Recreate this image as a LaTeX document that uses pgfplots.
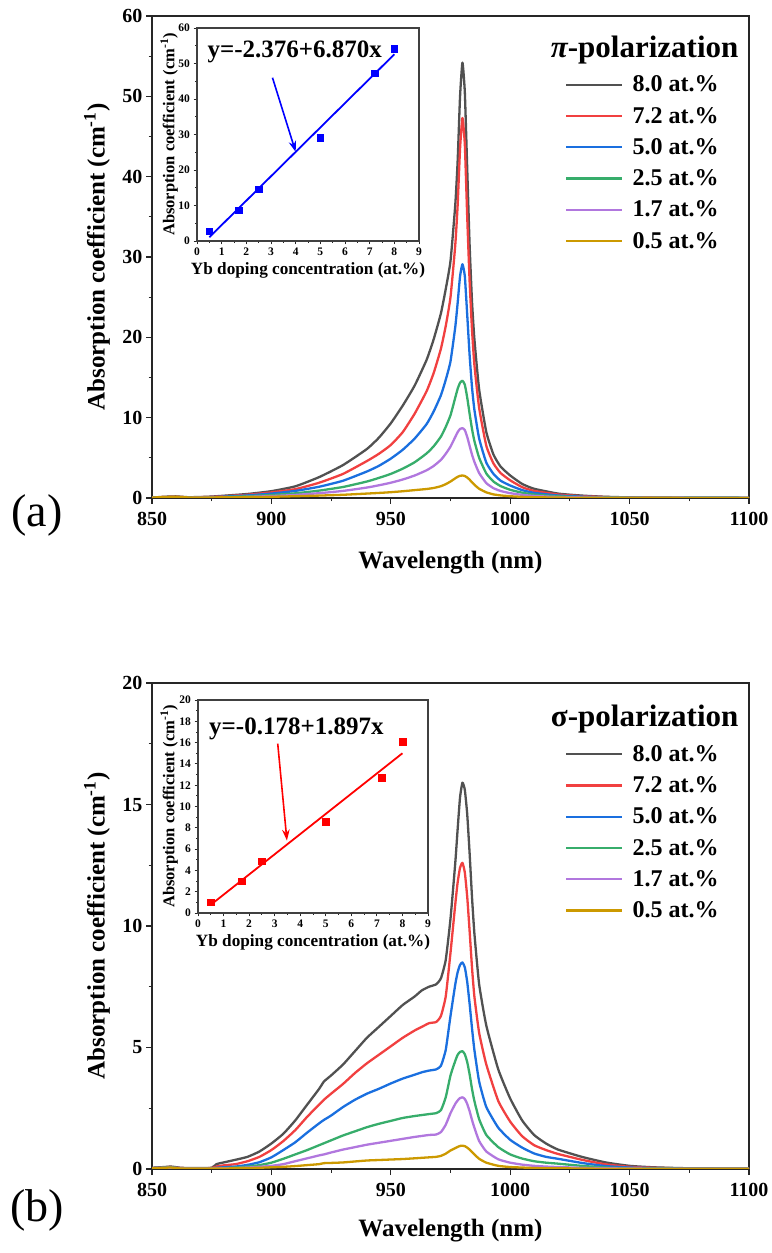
\documentclass[border=0pt]{standalone}
\usepackage{fontspec}
\setmainfont{Liberation Serif}
\usepackage{pgfplots}
\usepackage{pgfplotstable}
\pgfplotsset{compat=1.18}
\usetikzlibrary{arrows.meta}
\definecolor{cK}{HTML}{515151}
\definecolor{cR}{HTML}{F14040}
\definecolor{cB}{HTML}{1A6FDF}
\definecolor{cG}{HTML}{37AD6B}
\definecolor{cP}{HTML}{B177DE}
\definecolor{cY}{HTML}{CC9900}

\pgfplotstableread{
wl k80 k72 k50 k25 k17 k05
850 0.05 0.05 0.04 0.03 0.03 0.05
855 0.15 0.12 0.10 0.08 0.06 0.12
860 0.20 0.15 0.12 0.09 0.07 0.15
865 0.10 0.08 0.06 0.05 0.04 0.07
870 0.12 0.10 0.08 0.06 0.05 0.06
875 0.18 0.14 0.11 0.08 0.06 0.07
880 0.28 0.22 0.17 0.12 0.08 0.08
890 0.50 0.40 0.32 0.22 0.14 0.10
900 0.85 0.70 0.55 0.37 0.24 0.15
910 1.45 1.10 0.88 0.58 0.38 0.22
920 2.60 1.90 1.40 0.92 0.60 0.30
930 4.10 3.00 2.15 1.37 0.88 0.40
940 6.10 4.60 3.30 2.05 1.30 0.55
945 7.50 5.50 4.00 2.50 1.58 0.63
950 9.30 6.60 4.90 3.00 1.90 0.72
955 11.5 8.20 6.00 3.65 2.30 0.84
960 14.0 10.5 7.40 4.45 2.80 0.98
965 17.2 13.3 9.20 5.55 3.45 1.12
968 19.8 15.6 10.8 6.45 4.00 1.25
971 23.0 18.6 12.8 7.65 4.75 1.47
973 26.0 21.4 14.7 8.85 5.50 1.72
975 29.5 25.0 17.0 10.3 6.40 2.05
977 36.5 31.5 21.3 12.5 7.60 2.45
978 42.0 36.5 24.3 13.6 8.20 2.64
979 50.0 43.5 27.6 14.35 8.60 2.76
980 54.2 47.3 29.1 14.6 8.70 2.80
981 50.5 44.0 27.6 14.1 8.45 2.74
982 41.0 35.0 22.8 12.5 7.60 2.55
983 31.5 27.0 17.8 10.5 6.50 2.28
984 24.5 21.0 13.8 8.60 5.40 1.95
985 19.8 16.6 11.0 7.10 4.50 1.65
987 13.5 11.2 7.40 5.00 3.10 1.15
990 8.20 6.50 4.40 3.05 1.85 0.70
993 5.40 4.30 3.00 2.05 1.22 0.45
996 3.90 3.10 2.15 1.48 0.87 0.32
1000 2.80 2.20 1.55 1.02 0.60 0.22
1005 1.75 1.35 0.98 0.66 0.39 0.14
1010 1.15 0.88 0.64 0.43 0.26 0.10
1020 0.55 0.43 0.31 0.21 0.12 0.05
1030 0.30 0.23 0.17 0.11 0.07 0.03
1040 0.15 0.12 0.09 0.06 0.04 0.02
1050 0.08 0.06 0.05 0.04 0.03 0.02
1075 0.03 0.02 0.02 0.02 0.01 0.01
1100 0.02 0.01 0.01 0.01 0.01 0.01
}\tabpi

\pgfplotstableread{
wl k80 k72 k50 k25 k17 k05
850 0.05 0.04 0.04 0.03 0.02 0.03
855 0.08 0.07 0.06 0.05 0.04 0.05
858 0.10 0.08 0.07 0.06 0.05 0.06
862 0.05 0.04 0.03 0.03 0.02 0.02
866 0.04 0.03 0.03 0.02 0.02 0.02
870 0.04 0.03 0.03 0.02 0.02 0.02
875 0.05 0.04 0.03 0.02 0.02 0.02
877 0.20 0.10 0.05 0.03 0.02 0.02
880 0.27 0.15 0.07 0.04 0.03 0.02
885 0.38 0.20 0.10 0.06 0.04 0.03
890 0.50 0.32 0.17 0.10 0.06 0.04
895 0.72 0.50 0.28 0.16 0.09 0.05
900 1.05 0.78 0.48 0.26 0.13 0.07
905 1.45 1.15 0.78 0.42 0.20 0.09
910 2.00 1.60 1.10 0.60 0.32 0.12
915 2.65 2.15 1.50 0.78 0.44 0.16
920 3.30 2.65 1.88 0.98 0.56 0.20
922 3.60 2.85 2.02 1.06 0.60 0.24
925 3.85 3.10 2.20 1.18 0.68 0.25
930 4.30 3.50 2.55 1.38 0.80 0.27
935 4.85 3.95 2.85 1.55 0.90 0.31
940 5.40 4.35 3.10 1.72 1.00 0.35
945 5.85 4.70 3.30 1.86 1.08 0.37
950 6.30 5.05 3.52 1.98 1.16 0.39
955 6.75 5.40 3.72 2.10 1.24 0.41
960 7.10 5.70 3.88 2.18 1.32 0.44
963 7.35 5.85 3.98 2.22 1.36 0.46
966 7.50 6.00 4.05 2.26 1.40 0.48
969 7.60 6.05 4.10 2.30 1.42 0.50
971 7.85 6.30 4.25 2.42 1.52 0.54
973 8.60 7.10 4.90 2.95 1.82 0.63
975 10.3 8.90 6.30 3.85 2.30 0.76
977 12.6 10.9 7.60 4.45 2.68 0.86
978 14.0 11.8 8.10 4.70 2.82 0.91
979 15.3 12.4 8.40 4.82 2.92 0.95
980 15.9 12.6 8.50 4.85 2.95 0.96
981 15.6 12.2 8.30 4.72 2.88 0.94
982 14.6 11.2 7.70 4.40 2.68 0.88
983 13.0 9.80 6.80 3.90 2.38 0.80
984 11.2 8.30 5.80 3.30 2.02 0.70
985 9.70 7.10 4.90 2.80 1.70 0.60
987 7.60 5.60 3.60 2.05 1.15 0.42
990 5.90 4.30 2.55 1.40 0.72 0.26
995 4.10 2.80 1.70 0.90 0.40 0.13
1000 2.90 1.95 1.20 0.60 0.26 0.08
1005 2.00 1.35 0.88 0.43 0.18 0.06
1010 1.40 0.98 0.64 0.32 0.13 0.04
1015 1.05 0.78 0.50 0.26 0.10 0.03
1020 0.80 0.62 0.42 0.22 0.08 0.03
1030 0.50 0.38 0.25 0.13 0.05 0.02
1040 0.27 0.19 0.12 0.06 0.03 0.01
1050 0.13 0.09 0.06 0.03 0.02 0.01
1060 0.07 0.05 0.04 0.02 0.01 0.01
1075 0.03 0.02 0.02 0.01 0.01 0.01
1100 0.02 0.01 0.01 0.01 0.01 0.01
}\tabsig

\pgfplotsset{
 mainax/.style={
  scale only axis, width=597bp, anchor=south west,
  xmin=850, xmax=1100, xtick={850,900,...,1100}, minor x tick num=1,
  minor y tick num=1,
  tick align=outside, xtick pos=bottom, ytick pos=left,
  major tick length=6bp, minor tick length=3.5bp,
  tick style={line width=1.1bp, color=black!85},
  axis line style={line width=1.2bp, color=black!85},
  tick label style={font=\fontsize{20bp}{24bp}\selectfont\bfseries},
  xticklabel style={yshift=-5bp},
  /pgf/number format/assume math mode=true,
  /pgf/number format/1000 sep={},
  scaled ticks=false,
  label style={font=\fontsize{25bp}{30bp}\selectfont\bfseries},
  xlabel={Wavelength (nm)},
  ylabel={Absorption coefficient (cm\textsuperscript{-1})},
  ylabel style={at={(axis description cs:-0.092,0.5)}, anchor=center},
  legend style={draw=none, fill=none, font=\fontsize{24bp}{28bp}\selectfont\bfseries,
    inner sep=0pt, row sep=9.8bp, column sep=7bp, anchor=north west},
  legend cell align=left,
  legend image code/.code={\draw[##1] (0bp,0bp) -- (56bp,0bp);},
  every axis plot/.append style={line width=2.3bp, line join=round, smooth, tension=0.3},
 },
 insetax/.style={
  scale only axis, anchor=south west,
  xmin=0, xmax=9, xtick={0,...,9}, minor x tick num=1, minor y tick num=1,
  tick align=outside, xtick pos=bottom, ytick pos=left,
  major tick length=3.5bp, minor tick length=2bp,
  tick style={line width=0.8bp, color=black!85},
  axis line style={line width=1.3bp, color=black!75},
  tick label style={font=\fontsize{11.5bp}{13bp}\selectfont\bfseries},
  /pgf/number format/assume math mode=true,
  label style={font=\fontsize{16.5bp}{19bp}\selectfont\bfseries},
  xlabel={Yb doping concentration (at.\%)},
  ylabel={Absorption coefficient (cm\textsuperscript{-1})},
  xlabel style={at={(axis description cs:0.5,-0.137)}, anchor=center, font=\fontsize{17.2bp}{19bp}\selectfont\bfseries},
  ylabel style={at={(axis description cs:-0.125,0.5)}, anchor=center},
  axis background/.style={fill=white},
 },
}

\begin{document}
\begin{tikzpicture}
\path[use as bounding box] (0bp,0bp) rectangle (772bp,1253bp);

% (a) pi-polarization
\begin{axis}[mainax, at={(152bp,755bp)}, height=482bp,
  ymin=0, ymax=60, ytick={0,10,...,60},
  xlabel style={at={(axis description cs:0.5,-0.135)}, anchor=center},
  legend style={at={(0.692,0.880)}}]
\addplot[cK] table[x=wl,y=k80] {\tabpi}; \addlegendentry{8.0 at.\%}
\addplot[cR] table[x=wl,y=k72] {\tabpi}; \addlegendentry{7.2 at.\%}
\addplot[cB] table[x=wl,y=k50] {\tabpi}; \addlegendentry{5.0 at.\%}
\addplot[cG] table[x=wl,y=k25] {\tabpi}; \addlegendentry{2.5 at.\%}
\addplot[cP] table[x=wl,y=k17] {\tabpi}; \addlegendentry{1.7 at.\%}
\addplot[cY] table[x=wl,y=k05] {\tabpi}; \addlegendentry{0.5 at.\%}
\node[anchor=west, inner sep=0pt, font=\fontsize{31bp}{36bp}\selectfont\bfseries] at (rel axis cs:0.668,0.930) {{\itshape π}-polarization};
\end{axis}

% (b) sigma-polarization
\begin{axis}[mainax, at={(152bp,84bp)}, height=486bp,
  ymin=0, ymax=20, ytick={0,5,...,20},
  xlabel style={at={(axis description cs:0.5,-0.126)}, anchor=center},
  legend style={at={(0.692,0.876)}}]
\addplot[cK] table[x=wl,y=k80] {\tabsig}; \addlegendentry{8.0 at.\%}
\addplot[cR] table[x=wl,y=k72] {\tabsig}; \addlegendentry{7.2 at.\%}
\addplot[cB] table[x=wl,y=k50] {\tabsig}; \addlegendentry{5.0 at.\%}
\addplot[cG] table[x=wl,y=k25] {\tabsig}; \addlegendentry{2.5 at.\%}
\addplot[cP] table[x=wl,y=k17] {\tabsig}; \addlegendentry{1.7 at.\%}
\addplot[cY] table[x=wl,y=k05] {\tabsig}; \addlegendentry{0.5 at.\%}
\node[anchor=west, inner sep=0pt, font=\fontsize{31bp}{36bp}\selectfont\bfseries] at (rel axis cs:0.668,0.926) {σ-polarization};
\end{axis}

% inset (a)
\begin{axis}[insetax, at={(197bp,1012bp)}, width=222bp, height=213bp,
  ymin=0, ymax=60, ytick={0,10,...,60}]
\addplot[only marks, mark=square*, mark size=3.3bp, color=blue] coordinates {(0.5,2.8) (1.7,8.7) (2.5,14.6) (5.0,29.1) (7.2,47.3) (8.0,54.2)};
\addplot[blue, line width=1.8bp] coordinates {(0.5,1.059) (8.0,52.584)};
\draw[blue, line width=1.6bp, -{Stealth[length=11bp,width=7.5bp]}] (axis cs:3.06,46) -- (axis cs:4.0,25.1);
\node[anchor=west, inner sep=0pt, font=\fontsize{25bp}{29bp}\selectfont\bfseries] at (axis cs:0.42,53.3) {y=-2.376+6.870x};
\end{axis}

% inset (b)
\begin{axis}[insetax, at={(198bp,340bp)}, width=230bp, height=213bp,
  ymin=0, ymax=20, ytick={0,2,...,20}]
\addplot[only marks, mark=square*, mark size=3.3bp, color=red] coordinates {(0.5,1.0) (1.7,3.0) (2.5,4.85) (5.0,8.55) (7.2,12.7) (8.0,16.1)};
\addplot[red, line width=1.8bp] coordinates {(0.5,0.7705) (8.0,14.998)};
\draw[red, line width=1.6bp, -{Stealth[length=11bp,width=7.5bp]}] (axis cs:3.12,15.9) -- (axis cs:3.48,6.8);
\node[anchor=west, inner sep=0pt, font=\fontsize{25bp}{29bp}\selectfont\bfseries] at (axis cs:0.43,17.3) {y=-0.178+1.897x};
\end{axis}

\node[font=\fontsize{46bp}{52bp}\selectfont] at (37bp,738bp) {(a)};
\node[font=\fontsize{46bp}{52bp}\selectfont] at (37bp,43bp) {(b)};
\end{tikzpicture}
\end{document}
